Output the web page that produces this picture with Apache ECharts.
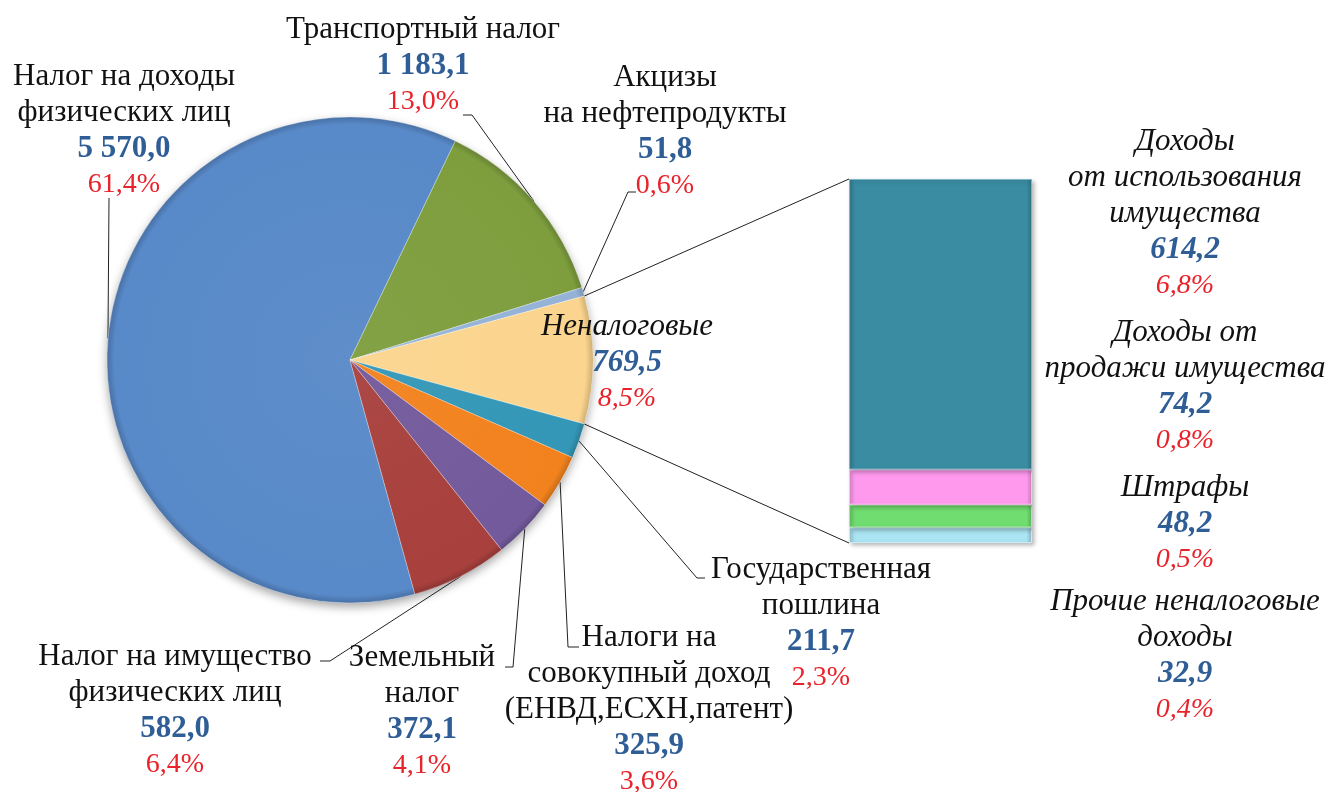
<!DOCTYPE html>
<html><head><meta charset="utf-8">
<script src="https://cdn.jsdelivr.net/npm/echarts@6/dist/echarts.min.js"></script>
<style>html,body{margin:0;padding:0;background:#fff}#c{width:1334px;height:792px}</style>
</head><body><div id="c"></div>
<script>
// ---- data ----
const pieNames = ['Налог на доходы\nфизических лиц', 'Транспортный налог', 'Акцизы\nна нефтепродукты', 'Неналоговые',
  'Государственная\nпошлина', 'Налоги на\nсовокупный доход\n(ЕНВД,ЕСХН,патент)', 'Земельный\nналог', 'Налог на имущество\nфизических лиц'];
const pieValues = [5570.0, 1183.1, 51.8, 769.5, 211.7, 325.9, 372.1, 582.0];
const barNames = ['Доходы\nот использования\nимущества', 'Доходы от\nпродажи имущества', 'Штрафы', 'Прочие неналоговые\nдоходы'];
const barValues = [614.2, 74.2, 48.2, 32.9];
const SPLIT = 3; // slice that is broken out into the bar

// ---- style / layout ----
const pieColors = ['#5889C8', '#7E9E3E', '#95B3D7', '#FBD58F', '#3497B7', '#F2821E', '#735A9C', '#A8403D'];
const barColors = ['#3A8CA3', '#FF99EE', '#70DD70', '#ABE4F2'];
const CX = 350, CY = 360, R = 243;
const GRID = {left: 849, top: 179, width: 183, height: 364};
const pieLabelPos = [[124, 59], [423, 12], [665, 60], [627, 309], [821, 552], [649, 620], [422, 640], [175, 639]];
const pieLeaderBends = [[[109, 198]], [[463, 115], [472, 115]], [[636, 192], [628, 192]], null,
  [[705, 578], [697, 578]], [[579, 647], [568, 647]], [[505, 667], [513, 667]], [[320, 661], [330, 661]]];
const barLabelPos = [[1185, 124], [1185, 315], [1185, 470], [1185, 584]];
const FONT = 'Liberation Serif';

const total = pieValues.reduce((a, b) => a + b, 0);
function fmtNum(v) { const s = v.toFixed(1).split('.'); return s[0].replace(/\B(?=(\d{3})+(?!\d))/g, ' ') + ',' + s[1]; }
function fmtPct(v) { return (v / total * 100).toFixed(1).replace('.', ',') + '%'; }
function shade(hex, f) {
  const n = parseInt(hex.slice(1), 16); let r = n >> 16, g = (n >> 8) & 255, b = n & 255;
  const m = x => Math.max(0, Math.min(255, Math.round(f < 0 ? x * (1 + f) : x + (255 - x) * f)));
  return 'rgb(' + m(r) + ',' + m(g) + ',' + m(b) + ')';
}
function richLabel(name, value, it) {
  const p = it ? 'i' : '';
  return name.split('\n').map(l => '{n' + p + '|' + l + '}').join('\n') + '\n{v' + p + '|' + fmtNum(value) + '}\n{p' + p + '|' + fmtPct(value) + '}';
}
const rich = {
  n: {fontFamily: FONT, fontSize: 31, color: '#111', lineHeight: 36, align: 'center'},
  v: {fontFamily: FONT, fontSize: 31, fontWeight: 'bold', color: '#2F5D96', lineHeight: 36, align: 'center'},
  p: {fontFamily: FONT, fontSize: 28, color: '#E8232B', lineHeight: 36, align: 'center'},
  ni: {fontFamily: FONT, fontSize: 31, fontStyle: 'italic', color: '#111', lineHeight: 36, align: 'center'},
  vi: {fontFamily: FONT, fontSize: 31, fontStyle: 'italic', fontWeight: 'bold', color: '#2F5D96', lineHeight: 36, align: 'center'},
  pi: {fontFamily: FONT, fontSize: 28, fontStyle: 'italic', color: '#E8232B', lineHeight: 36, align: 'center'}
};

// slice angles (ECharts: degrees, counter-clockwise from 3 o'clock, drawn clockwise)
const fr = pieValues.map(v => v / total);
let before = 0; for (let i = 0; i < SPLIT; i++) before += fr[i];
const startAngle = (before + fr[SPLIT] / 2) * 360;
const midAngle = []; let acc = 0;
fr.forEach(f => { midAngle.push(startAngle - (acc + f / 2) * 360); acc += f; });
function edgePoint(deg) { const a = deg * Math.PI / 180; return [CX + R * Math.cos(a), CY - R * Math.sin(a)]; }

const pieData = pieNames.map((n, i) => ({
  name: n, value: pieValues[i],
  itemStyle: {color: {type: 'radial', x: CX, y: CY, r: R, global: true,
    colorStops: [{offset: 0, color: shade(pieColors[i], 0.04)}, {offset: 0.92, color: pieColors[i]}, {offset: 0.97, color: pieColors[i]}, {offset: 1, color: shade(pieColors[i], -0.18)}]}},
  labelLine: {show: pieLeaderBends[i] !== null}
}));

const barSeries = [];
for (let i = barValues.length - 1; i >= 0; i--) {
  const c = barColors[i];
  barSeries.push({
    type: 'bar', name: barNames[i], stack: 'n', data: [barValues[i]], barWidth: '100%',
    xAxisIndex: 0, yAxisIndex: 0,
    itemStyle: {color: {type: 'linear', x: 0, y: 0, x2: 1, y2: 0,
      colorStops: [{offset: 0, color: shade(c, -0.15)}, {offset: 0.03, color: c}, {offset: 0.97, color: c}, {offset: 1, color: shade(c, -0.2)}]},
      borderColor: shade(c, 0.35), borderWidth: 1, shadowColor: 'rgba(0,0,0,0.25)', shadowBlur: 4, shadowOffsetX: 2, shadowOffsetY: 2},
    label: {show: true, position: 'right', formatter: () => richLabel(barNames[i], barValues[i], true), rich: rich},
    labelLayout: () => ({x: barLabelPos[i][0], y: barLabelPos[i][1], align: 'center', verticalAlign: 'top'})
  });
}

const half = fr[SPLIT] * 180;
const pTop = edgePoint(half), pBot = edgePoint(-half);

const chart = echarts.init(document.getElementById('c'), null, {renderer: 'canvas'});
chart.setOption({
  backgroundColor: '#fff',
  animation: false,
  grid: {left: GRID.left, top: GRID.top, width: GRID.width, height: GRID.height},
  xAxis: {type: 'category', data: [''], show: false},
  yAxis: {type: 'value', min: 0, max: pieValues[SPLIT], show: false},
  series: [{
    // soft drop shadow under the whole pie
    type: 'pie', center: [CX, CY], radius: R, silent: true, z: 1, label: {show: false}, labelLine: {show: false},
    data: [{value: total, itemStyle: {color: '#fff', shadowColor: 'rgba(0,0,0,0.35)', shadowBlur: 10, shadowOffsetY: 4}}]
  }, {
    type: 'pie', center: [CX, CY], radius: R, startAngle: startAngle, clockwise: true, z: 2,
    avoidLabelOverlap: false, data: pieData,
    itemStyle: {borderColor: 'rgba(255,255,255,0.35)', borderWidth: 0.8},
    label: {show: true, position: 'outside',
      formatter: p => richLabel(p.name, p.value, p.dataIndex === SPLIT), rich: rich},
    labelLine: {show: true, lineStyle: {color: '#222', width: 1}},
    labelLayout: p => {
      const i = p.dataIndex;
      const o = {x: pieLabelPos[i][0], y: pieLabelPos[i][1], align: 'center', verticalAlign: 'top'};
      if (pieLeaderBends[i]) o.labelLinePoints = pieLeaderBends[i].concat([edgePoint(midAngle[i])]);
      return o;
    }
  }].concat(barSeries),
  graphic: [
    {type: 'line', z: 10, shape: {x1: pTop[0], y1: pTop[1], x2: GRID.left, y2: GRID.top}, style: {stroke: '#222', lineWidth: 1}},
    {type: 'line', z: 10, shape: {x1: pBot[0], y1: pBot[1], x2: GRID.left, y2: GRID.top + GRID.height}, style: {stroke: '#222', lineWidth: 1}}
  ]
});
</script></body></html>
